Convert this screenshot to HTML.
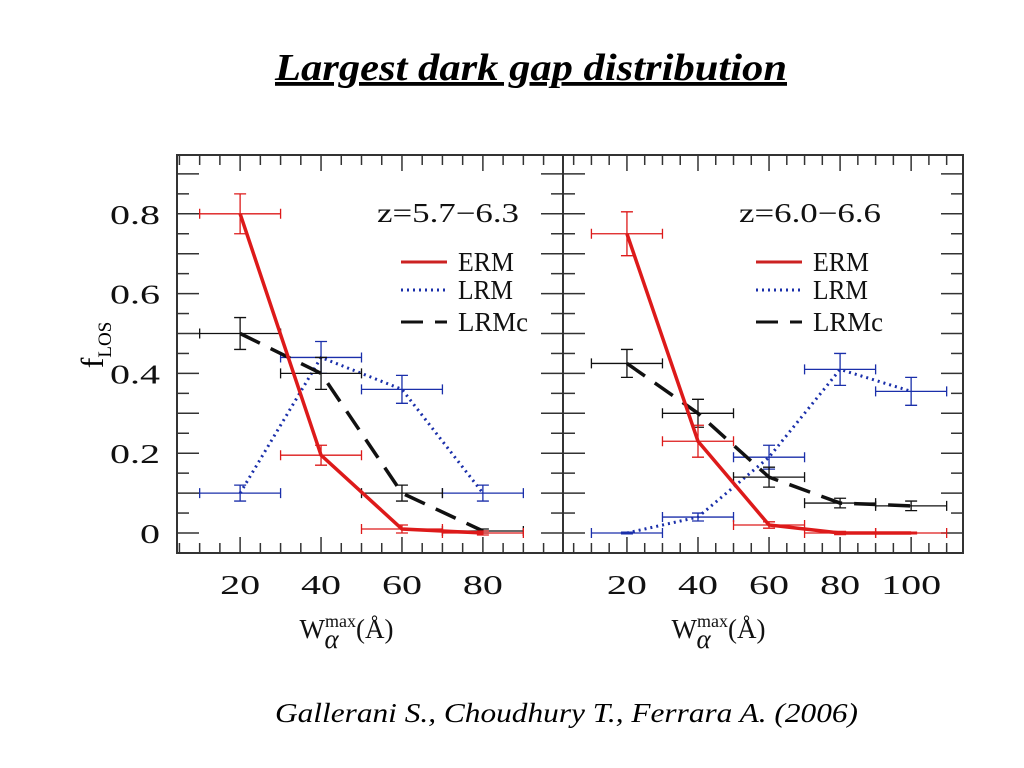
<!DOCTYPE html>
<html><head><meta charset="utf-8"><style>
body{margin:0;background:#fff;width:1024px;height:768px;overflow:hidden;}
svg{display:block;}
.tk{font-family:"Liberation Serif",serif;font-size:27px;fill:#111;}
</style></head><body>
<svg id="fig" width="1024" height="768" viewBox="0 0 1024 768">
<text x="275" y="80" textLength="512" lengthAdjust="spacingAndGlyphs" font-family="Liberation Serif,serif" font-size="38" font-weight="bold" font-style="italic" text-decoration="underline">Largest dark gap distribution</text>
<text x="275" y="722" textLength="583" lengthAdjust="spacingAndGlyphs" font-family="Liberation Serif,serif" font-size="27" font-style="italic">Gallerani S., Choudhury T., Ferrara A. (2006)</text>
<text transform="translate(103,345) rotate(-90)" text-anchor="middle" font-family="Liberation Serif,serif" font-size="32">f<tspan font-size="19" dy="8">LOS</tspan></text>
<g id="plot"></g>
</svg>
<script>
const yTicks=[0,0.2,0.4,0.6,0.8];
const yTickLabels=["0","0.2","0.4","0.6","0.8"];
const leftCats=[20,40,60,80];
const leftERM=[0.8,0.195,0.01,0.0];
const leftERMerr=[0.05,0.025,0.01,0.005];
const leftLRM=[0.1,0.44,0.36,0.1];
const leftLRMerr=[0.02,0.04,0.035,0.02];
const leftLRMc=[0.5,0.4,0.1,0.005];
const leftLRMcErr=[0.04,0.04,0.02,0.005];
const leftXTicks=[20,40,60,80];
const rightCats=[20,40,60,80,100];
const rightERM=[0.75,0.23,0.02,0.0,0.0];
const rightERMerr=[0.055,0.04,0.008,0.004,0.002];
const rightLRM=[0.0,0.04,0.19,0.41,0.355];
const rightLRMerr=[0.002,0.01,0.03,0.04,0.035];
const rightLRMc=[0.425,0.3,0.14,0.075,0.068];
const rightLRMcErr=[0.035,0.035,0.025,0.012,0.012];
const rightXTicks=[20,40,60,80,100];

const NS="http://www.w3.org/2000/svg";
const root=document.getElementById('plot');
function mk(tag,attrs,parent){const e=document.createElementNS(NS,tag);for(const k in attrs)e.setAttribute(k,attrs[k]);(parent||root).appendChild(e);return e;}
const Y0=533,YS=399;
function yS(v){return Y0-v*YS;}

function panel(name,px0,px1,xA,xB,cats,erm,ermE,lrm,lrmE,lrmc,lrmcE,xticks,zlabel,legX,zX,showY){
  const g=mk('g',{});
  
  
  const xS=v=>px0+(v-xA)/(xB-xA)*(px1-px0);
  const top=155,bot=553;
  const fr=mk('rect',{x:px0,y:top,width:px1-px0,height:bot-top,fill:'none',stroke:'#333','stroke-width':2},g);
  
  for(let v=Math.ceil(xA/5)*5;v<=xB;v+=5){
    const L=(v%20===0)?16:10;const x=xS(v);
    mk('line',{x1:x,x2:x,y1:top,y2:top+L,stroke:'#333','stroke-width':1.5},g);
    mk('line',{x1:x,x2:x,y1:bot,y2:bot-L,stroke:'#333','stroke-width':1.5},g);
  }
  for(let i=-1;i<=19;i++){
    const v=i*0.05;const y=yS(v);if(y<top||y>bot)continue;
    const L=(i%2===0)?22:12;
    mk('line',{x1:px0,x2:px0+L,y1:y,y2:y,stroke:'#333','stroke-width':1.5},g);
    mk('line',{x1:px1,x2:px1-L,y1:y,y2:y,stroke:'#333','stroke-width':1.5},g);
  }
  xticks.forEach(v=>{const s=String(v);const w=s.length*20;
    const t=mk('text',{x:xS(v)-w/2,y:594,class:'tk',textLength:w,lengthAdjust:'spacingAndGlyphs'},g);t.textContent=s;
    });
  if(showY) yTicks.forEach((v,i)=>{const s=yTickLabels[i];const w=s.length===1?20:50;
    const t=mk('text',{x:160-w,y:yS(v)+10,class:'tk',textLength:w,lengthAdjust:'spacingAndGlyphs'},g);t.textContent=s;
    });
  const cx=(xS(cats[1])+xS(cats[2]))/2;
  const xl=mk('text',{x:cx-62,y:638,class:'tk','font-size':29},g);
  xl.innerHTML='W<tspan font-size="18" dy="-11">max</tspan><tspan dy="11">(Å)</tspan>';
  
  const al=mk('text',{x:cx-37,y:648,class:'tk','font-size':17,'font-style':'italic'},g);al.textContent='α';
  function series(vals,errs,color,dash,width,sname){
    const sg=mk('g',{},g);
    
    const pts=cats.map((c,i)=>xS(c)+','+yS(vals[i])).join(' ');
    mk('polyline',{points:pts,fill:'none',stroke:color,'stroke-width':width,'stroke-dasharray':dash},sg);
    cats.forEach((c,i)=>{
      const x=xS(c),y=yS(vals[i]),xa=xS(c-10),xb=xS(c+10),ya=yS(vals[i]+errs[i]),yb=yS(vals[i]-errs[i]);
      const e=mk('path',{d:`M${xa},${y}H${xb}M${xa},${y-5}V${y+5}M${xb},${y-5}V${y+5}M${x},${ya}V${yb}M${x-6},${ya}H${x+6}M${x-6},${yb}H${x+6}`,stroke:color,'stroke-width':1.3,fill:'none'},sg);
      
    });
  }
  series(lrm,lrmE,'#1a2faa','2 4',3,'lrm-series');
  series(lrmc,lrmcE,'#111','22 12',3.5,'lrmc-series');
  series(erm,ermE,'#dd1a1a','none',3.5,'erm-series');
  const z=mk('text',{x:zX,y:222,class:'tk','font-size':27,textLength:142,lengthAdjust:'spacingAndGlyphs'},g);z.textContent=zlabel;
  
  const leg=[['ERM','#cc2222','none',262,56],['LRM','#1a2faa','2 4',290,55],['LRMc','#111','22 12',322,70]];
  leg.forEach(l=>{
    const lg=mk('g',{},g);
    mk('line',{x1:legX,x2:legX+46,y1:l[3],y2:l[3],stroke:l[1],'stroke-width':3,'stroke-dasharray':l[2]},lg);
    const t=mk('text',{x:legX+57,y:l[3]+9,class:'tk','font-size':25,textLength:l[4],lengthAdjust:'spacingAndGlyphs'},lg);t.textContent=l[0];t.setAttribute('fill',l[1]);
  });
}
panel('left-panel',177,563,4.4,99.8,leftCats,leftERM,leftERMerr,leftLRM,leftLRMerr,leftLRMc,leftLRMcErr,leftXTicks,'z=5.7−6.3',401,377,true);
panel('right-panel',563,963,2,114.6,rightCats,rightERM,rightERMerr,rightLRM,rightLRMerr,rightLRMc,rightLRMcErr,rightXTicks,'z=6.0−6.6',756,739,false);
</script>
</body></html>
